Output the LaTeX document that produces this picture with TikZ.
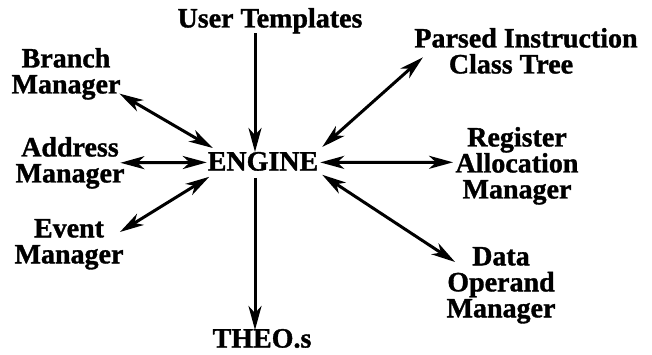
\documentclass[tikz,border=0pt]{standalone}
\usepackage{fontspec}
\setmainfont{Liberation Serif}[BoldFeatures={FakeBold=1.2}]
\usetikzlibrary{arrows.meta}
\begin{document}
\begin{tikzpicture}[x=1pt,y=-1pt,
  lbl/.style={inner sep=0pt,outer sep=0pt,anchor=north,align=center,
    font=\fontsize{28}{26}\selectfont\bfseries},
  tip/.tip={Stealth[length=24pt,width=13pt,inset=7pt]},
  conn/.style={line width=3pt,-tip},
  bconn/.style={line width=3pt,tip-tip}]
\useasboundingbox (0,0) rectangle (652,355);
\node[lbl] (ut) at (270,8) {User Templates};
\node[lbl] (eng) at (263,152) {ENGINE};
\node[lbl] (theo) at (262,329) {THEO.s};
\node[lbl] (br) at (66,48) {Branch\\Manager};
\node[lbl] (ad) at (70,137) {Address\\Manager};
\node[lbl] (ev) at (69,219) {Event\\Manager};
\node[lbl] (pa) at (526,28) {Parsed Instruction\\Class Tree\hspace*{30pt}};
\node[lbl] (re) at (517,127) {Register\\Allocation\\Manager};
\node[lbl] (da) at (501,247) {Data\\Operand\\Manager};
% connectors
\draw[conn] ([shift={(-15,0)}]ut.south) -- ([shift={(-8,0)}]eng.north);
\draw[conn] ([shift={(-8,7)}]eng.south) -- ([shift={(-7,1)}]theo.north);
\draw[bconn] ([shift={(-1,-6)}]br.south east) -- ([shift={(5,-4)}]eng.north west);
\draw[bconn] ([shift={(-4,0)}]ad.east) -- ([shift={(-1,1)}]eng.west);
\draw[bconn] ([shift={(-3.5,13)}]ev.north east) -- ([shift={(1.5,6)}]eng.south west);
\draw[bconn] ([shift={(8.5,6.5)}]pa.west) -- ([shift={(4,-5)}]eng.north east);
\draw[bconn] ([shift={(2,1)}]eng.east) -- ([shift={(-2.5,-3.5)}]re.west);
\draw[bconn] ([shift={(4,4)}]eng.south east) -- ([shift={(8.5,15)}]da.north west);
\end{tikzpicture}
\end{document}
